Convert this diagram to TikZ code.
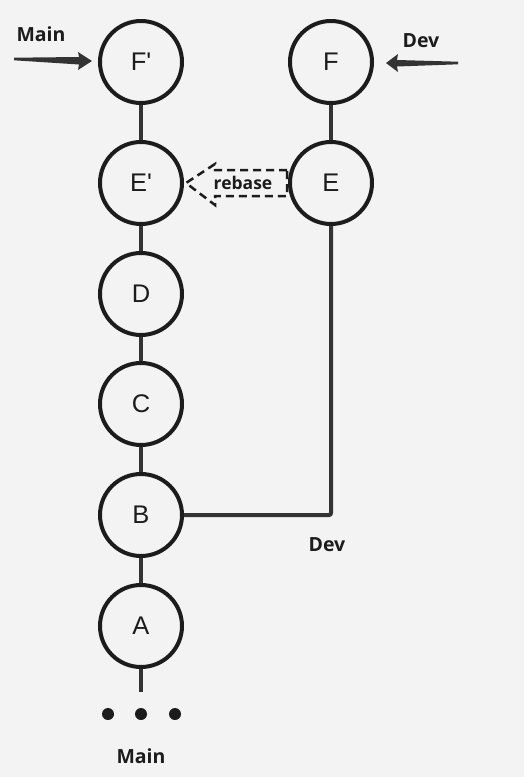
\documentclass[tikz,border=0pt]{standalone}
\usepackage{fontspec}
\usetikzlibrary{calc}
\newfontfamily\circfont{Liberation Sans}[Ligatures=TeXOff]
\newfontfamily\lblfont{Open Sans}
\definecolor{bg}{HTML}{F3F3F3}
\definecolor{ink}{HTML}{1C1C1C}
\definecolor{conn}{HTML}{333333}
\begin{document}
\begin{tikzpicture}[x=1pt,y=-1pt,
  commit/.style={circle,draw=ink,line width=4pt,minimum size=82pt,inner sep=0pt,
    font=\circfont\fontsize{25.5}{25.5}\selectfont,text=ink},
  link/.style={draw=conn,line width=4pt},
  lbl/.style={font=\lblfont\bfseries\fontsize{19.5}{19.5}\selectfont,text=ink},
  dot/.style={circle,fill=ink,minimum size=12pt,inner sep=0pt},
  tip/.style={fill=conn,draw=none}]
\fill[bg] (0,0) rectangle (524,777);
\useasboundingbox (0,0) rectangle (524,777);
% commits
\node[commit] (Fp) at (141,62) {F'};
\node[commit] (Ep) at (141,183) {E'};
\node[commit] (D) at (141,294) {D};
\node[commit] (C) at (141,404) {C};
\node[commit] (B) at (141,515) {B};
\node[commit] (A) at (141,626) {A};
\node[commit] (F) at (331,62) {F};
\node[commit] (E) at (331,183) {E};
% connectors
\draw[link] (Fp) -- (Ep);
\draw[link] (Ep) -- (D);
\draw[link] (D) -- (C);
\draw[link] (C) -- (B);
\draw[link] (B) -- (A);
\draw[link] (F) -- (E);
\draw[link,rounded corners=2pt] (B) -| (E);
\coordinate (Aend) at (141,692);
\draw[link] (A) -- (Aend);
% dots
\node[dot] (d1) at (108,714) {};
\node[dot] (d2) at (141,714) {};
\node[dot] (d3) at (175,714) {};
% labels
\node[lbl] (mainTop) at (41,34) {Main};
\node[lbl] (devTop) at (421,41) {Dev};
\node[lbl] (devBot) at (327,545) {Dev};
\node[lbl] (mainBot) at (141,756) {Main};
% tapered arrows
\coordinate (mainTail) at (14,59);
\coordinate (mainTip) at (92,61);
\fill[tip] ($(mainTail)+(0,-1.3)$) -- (79,57) -- (78,52) -- (mainTip) -- (78,70) -- (79,64.5) -- ($(mainTail)+(0,1.3)$) -- cycle;
\coordinate (devTail) at (458,63);
\coordinate (devTip) at (386,63);
\fill[tip] ($(devTail)+(0,-1.3)$) -- (397,60) -- (398,54) -- (devTip) -- (398,72) -- (397,66.5) -- ($(devTail)+(0,1.3)$) -- cycle;
% rebase arrow
\node[font=\lblfont\bfseries\fontsize{17.5}{17.5}\selectfont,text=ink] (rebase) at (243,183) {rebase};
\draw[draw=ink,line width=2.5pt,dash pattern=on 8pt off 5pt,line join=miter]
  (287,170) -- (215,170) -- (215,164) -- (186,183) -- (215,205) -- (215,196) -- (287,196) -- cycle;
\end{tikzpicture}
\end{document}
